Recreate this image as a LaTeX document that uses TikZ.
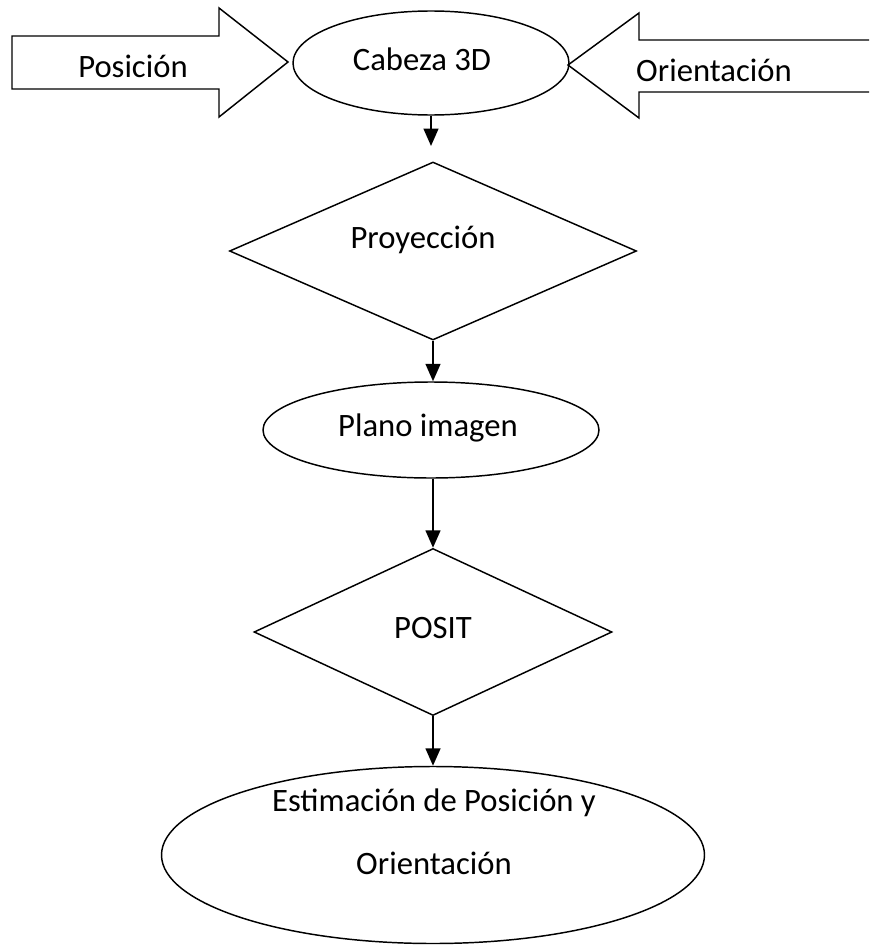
\documentclass[tikz,border=0pt]{standalone}
\usepackage{fontspec}
\setmainfont{Carlito}
\usetikzlibrary{shapes.geometric,arrows.meta}
\begin{document}
\begin{tikzpicture}[x=0.75pt,y=-0.75pt,
  shapeline/.style={draw=black,line width=1.1pt},
  ell/.style={shapeline,ellipse,inner sep=0pt},
  dia/.style={shapeline,diamond,inner sep=0pt},
  lbl/.style={font=\fontsize{24.5}{28}\selectfont,inner sep=0pt},
  conn/.style={line width=1.6pt,-{Triangle[length=13pt,width=11pt]}}]
\useasboundingbox (0,0) rectangle (869,949);
% block arrows
\draw[shapeline,line join=miter] (12,36) -- (219,36) -- (219,8) -- (288,62) -- (219,117) -- (219,89) -- (12,89) -- cycle;
\draw[shapeline,line join=miter] (869,40) -- (639,40) -- (639,13) -- (568,65) -- (639,118) -- (639,92) -- (869,92);
\node[lbl] (tpos) at (133,66) {Posición};
\node[lbl] (tori) at (714,70) {Orientación};
% nodes
\node[ell,minimum width=276*0.75pt,minimum height=104*0.75pt] (cab) at (431,63) {};
\node[lbl] (cabt) at (422,59) {Cabeza 3D};
\node[dia,minimum width=407*0.75pt,minimum height=178*0.75pt] (proy) at (433,251) {};
\node[lbl] (proyt) at (423,240) {Proyección};
\node[ell,minimum width=336*0.75pt,minimum height=96*0.75pt] (plano) at (431,430) {};
\node[lbl] (planot) at (428,428) {Plano imagen};
\node[dia,minimum width=358*0.75pt,minimum height=167*0.75pt] (posit) at (433,632) {};
\node[lbl] (positt) at (433,628) {POSIT};
\node[ell,minimum width=543*0.75pt,minimum height=177*0.75pt] (est) at (433,855) {};
\node[lbl] (estt1) at (434,803) {Estimación de Posición y};
\node[lbl] (estt2) at (434,863) {Orientación};
% connectors
\coordinate (c0) at (431,146);
\draw[conn] (cab.south) -- (c0);
\draw[conn] (proy.south) -- (proy.south |- plano.north);
\draw[conn] (plano.south -| posit.north) -- (posit.north);
\draw[conn] (posit.south) -- (est.north);
\end{tikzpicture}
\end{document}
